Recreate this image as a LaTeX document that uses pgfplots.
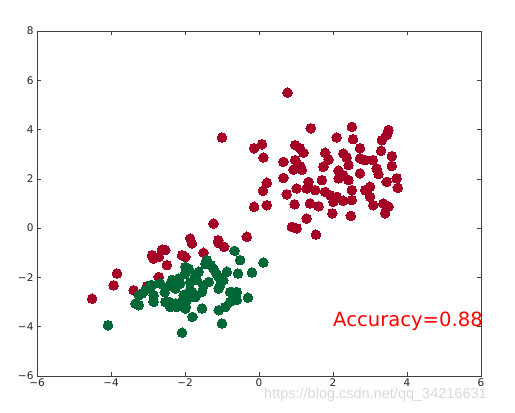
\documentclass[border=0pt]{standalone}
\usepackage{pgfplots}
\pgfplotsset{compat=1.18}
\usepackage{fontspec}
\setmainfont{DejaVu Sans}
\newfontfamily\wmfont{Liberation Sans}
\definecolor{cred}{HTML}{A50026}
\definecolor{cgreen}{HTML}{006837}
\begin{document}
\begin{tikzpicture}[x=1pt,y=1pt]
\path[use as bounding box] (0,0) rectangle (515,413);
\begin{axis}[
  at={(37pt,37pt)}, anchor=south west,
  width=444pt, height=345pt, scale only axis,
  xmin=-6, xmax=6, ymin=-6, ymax=8,
  xtick={-6,-4,-2,0,2,4,6},
  xticklabels={−6,−4,−2,0,2,4,6},
  ytick={-6,-4,-2,0,2,4,6,8},
  yticklabels={−6,−4,−2,0,2,4,6,8},
  tick label style={font=\fontsize{10.5}{12}\selectfont, text=black!85},
  tick align=inside, major tick length=4pt,
  axis line style={black!75, line width=0.8pt},
  tick style={black!75, line width=0.6pt},
  xticklabel style={yshift=1pt},
  clip=false,
]
\addplot[only marks, mark=*, mark size=4.8pt, color=cred, mark options={draw=cred, fill=cred, line width=0pt}] table {
x y
0.77 5.50
-1.00 3.68
1.40 4.05
2.51 4.11
3.50 3.98
3.45 3.78
2.10 3.68
2.54 3.61
3.32 3.57
0.08 3.40
-0.13 3.24
0.12 2.87
0.98 3.37
1.20 3.06
1.11 3.24
2.73 3.24
3.30 3.14
1.79 3.06
2.28 3.03
3.59 2.92
0.66 2.69
0.98 2.76
1.11 2.52
0.93 2.38
1.16 2.36
1.88 2.79
2.37 2.87
2.73 2.83
2.87 2.76
3.08 2.76
3.59 2.52
2.42 2.56
1.74 2.49
2.15 2.33
3.18 2.42
3.23 2.19
2.73 2.22
2.28 2.15
2.15 2.02
2.42 1.95
0.66 2.04
0.21 1.84
0.11 1.52
3.72 2.02
3.45 1.88
3.75 1.64
1.34 1.88
1.70 1.95
1.02 1.61
1.29 1.61
1.52 1.54
1.79 1.47
1.92 1.34
2.10 1.27
2.51 1.54
2.87 1.54
3.00 1.68
3.00 1.27
0.75 1.37
1.38 1.00
1.61 0.89
0.96 0.97
2.01 1.07
2.28 1.11
2.51 1.14
3.09 0.93
3.36 1.00
3.50 0.87
3.41 0.60
-0.13 0.87
0.21 0.93
1.98 0.60
2.48 0.50
1.29 0.39
0.89 0.05
1.02 -0.01
1.54 -0.26
-1.23 0.19
-0.33 -0.35
-1.10 -0.49
-1.86 -0.42
-1.81 -0.62
-1.09 -0.60
-0.94 -0.76
-2.62 -0.87
-2.53 -0.89
-2.85 -1.23
-2.71 -1.17
-2.89 -1.10
-2.08 -1.10
-1.99 -1.17
-1.50 -1.00
-2.49 -1.50
-2.71 -1.98
-3.84 -1.84
-3.93 -2.32
-3.39 -2.52
-3.03 -2.36
-4.51 -2.86
};
\addplot[only marks, mark=*, mark size=4.8pt, color=cgreen, mark options={draw=cgreen, fill=cgreen, line width=0pt}] table {
x y
-0.66 -0.92
-0.51 -1.30
0.12 -1.39
-0.19 -1.80
-0.57 -1.84
-0.87 -1.77
-1.41 -1.30
-1.45 -1.45
-1.99 -1.57
-1.90 -1.65
-1.72 -1.91
-1.63 -1.77
-1.23 -1.64
-1.15 -1.85
-0.96 -2.11
-1.09 -1.98
-1.05 -2.32
-1.36 -2.18
-1.50 -2.32
-2.17 -2.04
-2.13 -2.25
-2.40 -2.32
-2.67 -2.25
-2.89 -2.32
-2.94 -2.32
-3.07 -2.52
-3.16 -2.65
-3.25 -2.72
-2.85 -2.72
-2.85 -2.99
-3.34 -3.06
-3.25 -3.13
-2.53 -2.99
-2.44 -2.99
-2.40 -3.20
-2.22 -3.20
-1.99 -3.20
-1.95 -2.92
-2.04 -2.72
-1.81 -2.59
-1.72 -2.79
-1.54 -2.59
-1.54 -3.26
-1.80 -3.60
-2.08 -4.24
-1.00 -3.87
-1.09 -3.33
-0.91 -3.20
-0.78 -2.99
-0.69 -2.79
-0.78 -2.59
-0.60 -2.59
-0.30 -2.82
-4.08 -3.94
-1.68 -2.11
-1.86 -2.20
-2.26 -2.45
-2.55 -2.60
-1.09 -2.45
-2.26 -3.06
-1.99 -3.26
-0.60 -2.92
-0.73 -2.59
-2.04 -2.86
-1.86 -2.52
-1.77 -2.79
-2.00 -1.85
-1.30 -1.50
-2.35 -2.10
};
\node[anchor=base west, inner sep=0pt, text=red, font=\fontsize{19.6}{22}\selectfont] at (axis cs:2.0,-4.0) {Accuracy=0.88};
\end{axis}
\node[anchor=west, inner sep=0pt, text=black!15, font=\wmfont\fontsize{14.5}{16}\selectfont] at (264,18) {https://blog.csdn.net/qq\_34216631};
\end{tikzpicture}
\end{document}
